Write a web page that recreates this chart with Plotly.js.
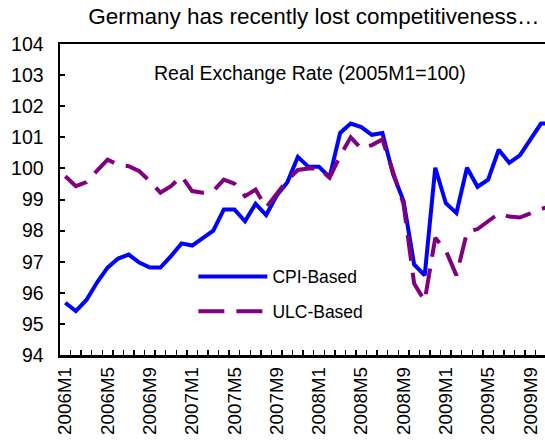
<!DOCTYPE html>
<html>
<head>
<meta charset="utf-8">
<script src="https://cdn.plot.ly/plotly-3.0.1.min.js"></script>
<style>html,body{margin:0;padding:0;background:#fff;}#chart{width:545px;height:447px;}</style>
</head>
<body>
<div id="chart"></div>
<script>
// Monthly categories (the chart is cropped just after 2009M10)
const months = [
  "2006M1","2006M2","2006M3","2006M4","2006M5","2006M6","2006M7","2006M8","2006M9","2006M10","2006M11","2006M12",
  "2007M1","2007M2","2007M3","2007M4","2007M5","2007M6","2007M7","2007M8","2007M9","2007M10","2007M11","2007M12",
  "2008M1","2008M2","2008M3","2008M4","2008M5","2008M6","2008M7","2008M8","2008M9","2008M10","2008M11","2008M12",
  "2009M1","2009M2","2009M3","2009M4","2009M5","2009M6","2009M7","2009M8","2009M9","2009M10","2009M11"
];
const cpiBased = [
  95.68,95.41,95.77,96.33,96.81,97.10,97.23,96.97,96.81,96.81,97.18,97.59,
  97.52,97.77,98.00,98.68,98.68,98.30,98.86,98.50,99.13,99.55,100.37,100.05,
  100.05,99.72,101.14,101.44,101.33,101.08,101.14,99.82,98.95,96.91,96.56,100.02,
  98.88,98.57,100.02,99.41,99.64,100.60,100.18,100.42,100.93,101.44,101.44
];
const ulcBased = [
  99.75,99.43,99.56,99.91,100.28,100.12,100.07,99.91,99.59,99.22,99.43,99.75,
  99.27,99.22,99.27,99.64,99.51,99.11,99.32,98.74,99.16,99.62,99.95,100.00,
  100.00,99.70,100.40,101.00,100.64,100.75,100.93,99.85,98.85,96.30,95.74,97.77,
  97.36,96.56,97.95,98.05,98.30,98.55,98.45,98.42,98.55,98.70,98.78
];
const labeledTicks = ["2006M1","2006M5","2006M9","2007M1","2007M5","2007M9","2008M1","2008M5","2008M9","2009M1","2009M5","2009M9"];
const yTicks = [94,95,96,97,98,99,100,101,102,103,104];

const FONT = "Arial, 'Liberation Sans', sans-serif";

const traces = [
  {x: months, y: cpiBased, name: "CPI-Based", type: "scatter", mode: "lines", legendgroup: "cpi",
   line: {color: "#0000FF", width: 4}},
  {x: months, y: ulcBased, name: "ULC-Based", type: "scatter", mode: "lines", legendgroup: "ulc",
   line: {color: "#800080", width: 4, dash: "26px,12px"}}
];

const layout = {
  width: 545, height: 447,
  margin: {l: 60, r: 0, t: 44, b: 91.5, pad: 0},
  paper_bgcolor: "#fff", plot_bgcolor: "#fff",
  font: {family: FONT, size: 19, color: "#000"},
  title: {text: "Germany has recently lost competitiveness…", font: {family: FONT, size: 22.5, color: "#000"},
          xref: "container", x: 0.576, xanchor: "center", yref: "container", y: 0.965, yanchor: "middle"},
  showlegend: true,
  legend: {x: 0.275, xanchor: "left", y: 0.31, yanchor: "top", bgcolor: "rgba(0,0,0,0)",
           font: {family: FONT, size: 17.5, color: "#000"}, itemwidth: 69, tracegroupgap: 9},
  xaxis: {
    type: "category", range: [-0.5, 45.38], showgrid: false, zeroline: false,
    showline: true, linecolor: "#000", linewidth: 2.5, mirror: true,
    tickson: "boundaries", ticks: "inside", ticklen: 5, tickwidth: 1.5, tickcolor: "#000",
    tickmode: "array", tickvals: months,
    ticktext: months.map(m => labeledTicks.includes(m) ? m : ""),
    tickangle: -90, ticklabelstandoff: 2,
    tickfont: {family: FONT, size: 18.8, color: "#000"}
  },
  yaxis: {
    range: [94, 104], showgrid: false, zeroline: false,
    showline: true, linecolor: "#000", linewidth: 2.5, mirror: false,
    ticks: "inside", ticklen: 5, tickwidth: 2, tickcolor: "#000",
    tickmode: "array", tickvals: yTicks, ticktext: yTicks.map(String), ticklabelstandoff: 10,
    tickfont: {family: FONT, size: 19.5, color: "#000"}
  },
  annotations: [
    {text: "Real Exchange Rate (2005M1=100)", xref: "paper", yref: "paper", x: 0.515, y: 0.907,
     xanchor: "center", yanchor: "middle", showarrow: false, font: {family: FONT, size: 19.5, color: "#000"}}
  ]
};

Plotly.newPlot("chart", traces, layout, {staticPlot: true, displayModeBar: false});
</script>
</body>
</html>
